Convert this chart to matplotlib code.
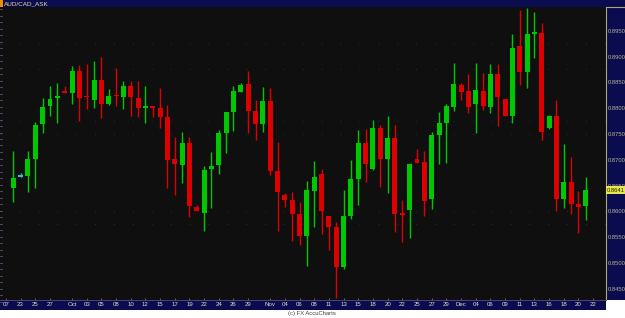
import matplotlib
matplotlib.use("Agg")
import matplotlib.pyplot as plt
from matplotlib.patches import Rectangle
import numpy as np

symbol = "AUD/CAD_ASK"
copyright_text = "(c) FX AccuCharts"

opens = [0.8645, 0.8669, 0.8669, 0.8702, 0.8769, 0.8804, 0.8821, 0.8834, 0.8830, 0.8872,
         0.8823, 0.8816, 0.8854, 0.8808, 0.8825, 0.8822, 0.8843, 0.8820, 0.8802, 0.8803,
         0.8800, 0.8783, 0.8702, 0.8690, 0.8732, 0.8609, 0.8597, 0.8682, 0.8690, 0.8752,
         0.8792, 0.8832, 0.8847, 0.8794, 0.8769, 0.8814, 0.8678, 0.8632, 0.8622, 0.8595,
         0.8552, 0.8640, 0.8673, 0.8591, 0.8570, 0.8492, 0.8591, 0.8663, 0.8732, 0.8682,
         0.8762, 0.8702, 0.8742, 0.8596, 0.8603, 0.8702, 0.8696, 0.8624, 0.8748, 0.8771,
         0.8802, 0.8845, 0.8834, 0.8808, 0.8834, 0.8802, 0.8866, 0.8818, 0.8785, 0.8920,
         0.8870, 0.8945, 0.8946, 0.8762, 0.8785, 0.8624, 0.8657, 0.8615, 0.8611]
highs = [0.8717, 0.8674, 0.8717, 0.8773, 0.8820, 0.8843, 0.8849, 0.8843, 0.8882, 0.8884,
         0.8886, 0.8891, 0.8899, 0.8837, 0.8878, 0.8853, 0.8853, 0.8853, 0.8843, 0.8803,
         0.8839, 0.8806, 0.8744, 0.8754, 0.8744, 0.8613, 0.8688, 0.8715, 0.8758, 0.8792,
         0.8843, 0.8849, 0.8872, 0.8816, 0.8841, 0.8839, 0.8734, 0.8636, 0.8638, 0.8618,
         0.8659, 0.8698, 0.8682, 0.8591, 0.8580, 0.8641, 0.8700, 0.8758, 0.8760, 0.8777,
         0.8767, 0.8785, 0.8767, 0.8622, 0.8692, 0.8721, 0.8717, 0.8754, 0.8792, 0.8808,
         0.8887, 0.8849, 0.8866, 0.8887, 0.8868, 0.8886, 0.8886, 0.8818, 0.8944, 0.8990,
         0.8994, 0.8986, 0.8965, 0.8787, 0.8816, 0.8731, 0.8705, 0.8640, 0.8667]
lows = [0.8618, 0.8667, 0.8638, 0.8645, 0.8752, 0.8785, 0.8771, 0.8830, 0.8808, 0.8775,
        0.8798, 0.8800, 0.8781, 0.8807, 0.8804, 0.8798, 0.8785, 0.8783, 0.8771, 0.8783,
        0.8762, 0.8645, 0.8632, 0.8655, 0.8589, 0.8601, 0.8562, 0.8607, 0.8673, 0.8713,
        0.8756, 0.8832, 0.8752, 0.8738, 0.8754, 0.8671, 0.8562, 0.8609, 0.8543, 0.8535,
        0.8494, 0.8570, 0.8556, 0.8525, 0.8432, 0.8489, 0.8585, 0.8613, 0.8657, 0.8680,
        0.8647, 0.8636, 0.8560, 0.8541, 0.8549, 0.8694, 0.8591, 0.8605, 0.8692, 0.8694,
        0.8794, 0.8816, 0.8791, 0.8752, 0.8796, 0.8791, 0.8765, 0.8785, 0.8771, 0.8845,
        0.8839, 0.8897, 0.8738, 0.8760, 0.8601, 0.8607, 0.8595, 0.8558, 0.8584]
closes = [0.8665, 0.8669, 0.8702, 0.8767, 0.8802, 0.8818, 0.8822, 0.8830, 0.8872, 0.8820,
          0.8822, 0.8854, 0.8808, 0.8824, 0.8824, 0.8843, 0.8822, 0.8800, 0.8803, 0.8801,
          0.8783, 0.8700, 0.8692, 0.8732, 0.8611, 0.8601, 0.8680, 0.8688, 0.8752, 0.8792,
          0.8834, 0.8845, 0.8794, 0.8769, 0.8814, 0.8678, 0.8638, 0.8622, 0.8595, 0.8552,
          0.8641, 0.8667, 0.8601, 0.8570, 0.8492, 0.8591, 0.8663, 0.8732, 0.8692, 0.8762,
          0.8702, 0.8742, 0.8595, 0.8595, 0.8692, 0.8694, 0.8620, 0.8748, 0.8771, 0.8804,
          0.8847, 0.8832, 0.8802, 0.8835, 0.8804, 0.8866, 0.8822, 0.8785, 0.8916, 0.8870,
          0.8944, 0.8946, 0.8754, 0.8785, 0.8624, 0.8657, 0.8615, 0.8609, 0.8641]

tick_pos = [-1, 1, 3, 5, 8, 10, 12, 14, 16, 18, 20, 22, 24, 26, 28, 30, 32, 35, 37, 39,
            41, 43, 45, 47, 49, 51, 53, 55, 57, 59, 61, 63, 65, 67, 69, 71, 73, 75, 77, 79]
tick_labels = ["07", "23", "25", "27", "Oct", "03", "05", "08", "10", "12", "15", "17", "19",
               "22", "24", "26", "29", "Nov", "04", "06", "08", "11", "13", "15", "18", "20",
               "22", "25", "27", "29", "Dec", "04", "06", "09", "11", "13", "16", "18", "20", "22"]
price_ticks = [0.8450, 0.8500, 0.8550, 0.8600, 0.8650, 0.8700, 0.8750, 0.8800, 0.8850, 0.8900, 0.8950]
grid_levels = [0.8925, 0.8875, 0.8775, 0.8750, 0.8600, 0.8575]

W, H = 625, 318
fig = plt.figure(figsize=(W / 100, H / 100), dpi=100, facecolor="white")
font = ["Liberation Sans", "DejaVu Sans"]

navy = "#0b0b50"
border = "#a8a870"

def add_rect(x0, y0, x1, y1, color, z=-5, ec="none", lw=0):
    fig.patches.append(Rectangle((x0 / W, 1 - y1 / H), (x1 - x0) / W, (y1 - y0) / H,
                                 transform=fig.transFigure, facecolor=color,
                                 edgecolor=ec, linewidth=lw, zorder=z))

# header, right panel, bottom bar
add_rect(0, 0, W, 7, navy)
add_rect(0, 0, 3, 7, "#f08c00", z=-4)
add_rect(606, 7, W, 300, navy)
add_rect(0, 300, 606, 309.5, navy)
fig.text(4 / W, 1 - 3.6 / H, symbol, color="#e6dc9a", fontsize=4.6, family=font,
         va="center", ha="left")
fig.text(312 / W, 1 - 314 / H, copyright_text, color="#404040", fontsize=4.2,
         family=font, va="center", ha="center")

ax = fig.add_axes([0, 1 - 300 / H, 606 / W, 293 / H])
ax.set_facecolor("#0f0f0f")

n = len(opens)
x = np.arange(n)
o = np.array(opens); h = np.array(highs); l = np.array(lows); c = np.array(closes)
colors = np.where(c > o, "#00c800", np.where(c < o, "#dc0000", "#20c8d0"))

for lv in grid_levels:
    ax.axhline(lv, color="#24244c", linewidth=0.8, linestyle=(0, (1, 16)), zorder=0.5)

ax.vlines(x, l, h, colors=colors, linewidth=1.0, zorder=2)
bottom = np.minimum(o, c)
height = np.maximum(np.abs(c - o), 0.00028)
bottom = np.where(np.abs(c - o) < 0.00028, (o + c) / 2 - 0.00014, bottom)
ax.bar(x, height, bottom=bottom, width=0.68, color=colors, linewidth=0, zorder=3)

x_per_px = 1 / 7.34
ax.set_xlim(-13.3 * x_per_px, (606 - 13.3) * x_per_px)
px_price = 0.0001936
top_price = 0.900944
ax.set_ylim(top_price - 300 * px_price, top_price - 7 * px_price)

ax.set_xticks(tick_pos)
ax.set_xticklabels(tick_labels, fontsize=4.4, family=font, color="#e0dcc0")
ax.tick_params(axis="x", direction="in", length=1.5, width=0.6, color="#707090", pad=1.8)

ax.yaxis.tick_right()
ax.set_yticks(price_ticks)
ax.set_yticklabels([f"{p:.4f}" for p in price_ticks], fontsize=4.2, family=font, color="#b4b48c")
ax.tick_params(axis="y", which="major", length=0, pad=1.2)

for s in ["top", "left", "bottom"]:
    ax.spines[s].set_visible(False)
ax.spines["right"].set_color(border)
ax.spines["right"].set_linewidth(0.8)
fig.lines.append(plt.Line2D([606 / W, 1], [1 - 7 / H, 1 - 7 / H], transform=fig.transFigure,
                            color=border, linewidth=0.8))
fig.lines.append(plt.Line2D([0, 606 / W], [1 - 300 / H, 1 - 300 / H], transform=fig.transFigure,
                            color="#50507a", linewidth=0.6))

# left edge minor ticks
for k in range(46):
    yy = (k * 6.5 + 9) / H
    fig.lines.append(plt.Line2D([0, 2.2 / W], [1 - yy, 1 - yy], transform=fig.transFigure,
                                color="#6a6a90", linewidth=0.5))

# last price box
last = closes[-1]
ly = (top_price - last) / px_price
add_rect(606, ly - 4, W, ly + 4, "#e8e84c", z=5)
fig.text(607 / W, 1 - ly / H, f"{last:.4f}", color="#202000", fontsize=4.2, family=font,
         va="center", ha="left", zorder=6)

fig.savefig("out.png", dpi=100, facecolor="white")
